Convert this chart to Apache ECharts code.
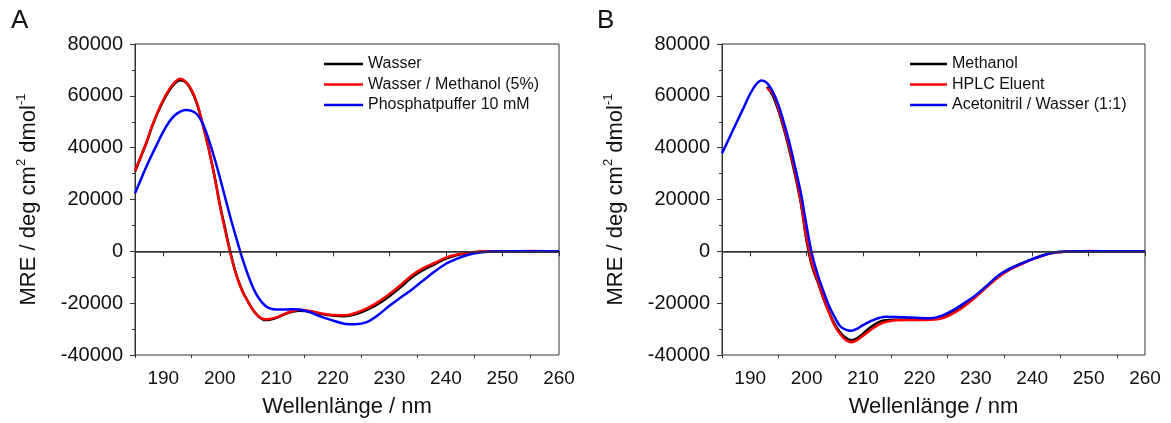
<!DOCTYPE html>
<html>
<head>
<meta charset="utf-8">
<script src="https://cdn.jsdelivr.net/npm/echarts@6/dist/echarts.min.js"></script>
<style>
  html, body { margin: 0; padding: 0; background: #fff; }
  #chart { width: 1171px; height: 423px; }
</style>
</head>
<body>
<div id="chart"></div>
<script>
// Wellenlänge (nm), gemeinsames Raster fuer beide Panels
const wavelengths = [185, 186, 187, 188, 189, 190, 191, 192, 193, 194,
  195, 196, 197, 198, 199, 200, 201, 202, 203, 204,
  205, 206, 207, 208, 209, 210, 211, 212, 213, 214,
  216, 218, 220, 222, 224, 226, 228, 230, 232, 234,
  236, 238, 240, 242, 244, 246, 248, 250, 255, 260]

// Panel A
const wasser = [30800, 36200, 41700, 48000, 53400, 58000, 61800, 64700, 66000, 65200,
  62000, 56600, 48800, 40000, 29800, 18300, 8300, -1500, -9500, -15300,
  -19400, -23000, -25400, -26500, -26300, -25700, -24700, -23800, -23200, -22900,
  -23200, -24200, -24800, -25000, -24300, -22600, -20300, -17300, -13800, -10000,
  -7200, -5000, -2800, -1400, -600, -200, 0, 0, 0, 0]
const wasserMethanol = [31000, 36500, 42000, 48300, 53800, 58500, 62300, 65200, 66600, 65400,
  62300, 57000, 48900, 39900, 29500, 17800, 7500, -2000, -9800, -15500,
  -19500, -23000, -25300, -26200, -26000, -25500, -24600, -23700, -23000, -22500,
  -23000, -24000, -24600, -24700, -23800, -22000, -19600, -16500, -13000, -9200,
  -6500, -4500, -2400, -1200, -500, -100, 0, 0, 100, 0]
const phosphat = [22400, 27500, 32600, 37300, 41800, 46200, 49800, 52400, 53900, 54500,
  54200, 52800, 49200, 43400, 36400, 28600, 20300, 12100, 4500, -2800,
  -9200, -14600, -18400, -20900, -22100, -22400, -22400, -22400, -22300, -22400,
  -23500, -25300, -26700, -27900, -28100, -27300, -24600, -21000, -17800, -14700,
  -11200, -7800, -4800, -2800, -1300, -500, -100, 0, 0, 0]

// Panel B
const methanol = [null, null, null, null, null, null, null, null, 63500, 60000,
  54300, 47000, 38500, 29000, 18300, 4000, -6000, -12000, -18300, -23600,
  -28200, -31400, -33500, -34300, -33500, -31800, -29900, -28300, -27100, -26600,
  -26400, -26300, -26200, -26200, -25200, -23200, -20500, -17200, -13400, -9500,
  -6700, -4800, -3000, -1500, -400, -100, 0, 0, 0, 0]
const hplcEluent = [null, null, null, null, null, null, null, null, 63000, 60800,
  55200, 48000, 39500, 30000, 18800, 5000, -5200, -11400, -18000, -23800,
  -28800, -32100, -34300, -35100, -34200, -32600, -30900, -29400, -28100, -27300,
  -26600, -26500, -26500, -26400, -25800, -23900, -21200, -17600, -13700, -10000,
  -7100, -5000, -3100, -1600, -500, -100, 0, 100, 0, 0]
const acetonitril = [37800, 42400, 47000, 51600, 56200, 60800, 64300, 65900, 64900, 61600,
  56500, 49500, 41500, 32100, 22300, 9800, -1500, -9200, -15500, -21200,
  -25500, -29000, -30300, -30600, -29800, -28500, -27300, -26400, -25600, -25200,
  -25300, -25500, -25700, -25800, -24800, -22700, -19900, -16900, -13200, -9300,
  -6800, -4800, -3000, -1500, -400, -100, 0, 0, 0, 0]

const xMajor = [190, 200, 210, 220, 230, 240, 250, 260]
const xMinor = [185, 195, 205, 215, 225, 235, 245, 255]

const FONT = 'Liberation Sans, Arial, sans-serif'
const AXIS_COLOR = '#333'
const TEXT_COLOR = '#111'

const myChart = echarts.init(document.getElementById('chart'))

function pairs(values) {
  return wavelengths.map((w, i) => [w, values[i]])
}

function mainXAxis(gridIndex) {
  return {
    type: 'value',
    gridIndex: gridIndex,
    position: 'bottom',
    min: 185,
    max: 260,
    name: 'Wellenlänge / nm',
    nameLocation: 'middle',
    nameGap: 41,
    nameTextStyle: { fontSize: 22, color: TEXT_COLOR, fontFamily: FONT },
    axisLine: { show: true, lineStyle: { color: AXIS_COLOR, width: 1 } },
    axisTick: { show: true, customValues: xMajor, length: 5, lineStyle: { color: AXIS_COLOR } },
    axisLabel: { customValues: xMajor, fontSize: 19, color: TEXT_COLOR, fontFamily: FONT, margin: 14 },
    splitLine: { show: false }
  }
}

function minorXAxis(gridIndex) {
  return {
    type: 'value',
    gridIndex: gridIndex,
    position: 'bottom',
    min: 185,
    max: 260,
    axisLine: { show: false },
    axisTick: { show: true, customValues: xMinor, length: 3, lineStyle: { color: AXIS_COLOR } },
    axisLabel: { show: false },
    splitLine: { show: false }
  }
}

function yAxis(gridIndex) {
  return {
    type: 'value',
    gridIndex: gridIndex,
    min: -40000,
    max: 80000,
    interval: 20000,
    name: 'MRE / deg cm{sup|2} dmol{sup|-1}',
    nameLocation: 'middle',
    nameGap: 93,
    nameTextStyle: {
      fontSize: 22,
      color: TEXT_COLOR,
      fontFamily: FONT,
      rich: {
        sup: { fontSize: 13, color: TEXT_COLOR, fontFamily: FONT, padding: [0, 0, 14, 0] }
      }
    },
    axisLine: { show: true, lineStyle: { color: AXIS_COLOR, width: 1 } },
    axisTick: { show: true, length: 5, lineStyle: { color: AXIS_COLOR } },
    minorTick: { show: true, splitNumber: 2, length: 3, lineStyle: { color: AXIS_COLOR } },
    axisLabel: {
      fontSize: 20, color: TEXT_COLOR, fontFamily: FONT, margin: 12,
      formatter: function (v) { return String(v) }
    },
    splitLine: { show: false }
  }
}

function lineSeries(name, values, color, xIdx, yIdx, zeroLine) {
  const s = {
    name: name,
    type: 'line',
    xAxisIndex: xIdx,
    yAxisIndex: yIdx,
    smooth: 0.35,
    symbol: 'none',
    showSymbol: false,
    lineStyle: { color: color, width: 2.5 },
    itemStyle: { color: color },
    data: pairs(values)
  }
  if (zeroLine) {
    s.markLine = {
      silent: true,
      symbol: ['none', 'none'],
      label: { show: false },
      lineStyle: { color: AXIS_COLOR, width: 1.5, type: 'solid' },
      data: [{ yAxis: 0 }]
    }
  }
  return s
}

function legend(names, left, width) {
  return {
    data: names,
    orient: 'vertical',
    left: left,
    top: 56,
    padding: 0,
    icon: 'rect',
    itemWidth: width,
    itemHeight: 2.5,
    itemGap: 4.5,
    textStyle: { fontSize: 16, lineHeight: 16, color: TEXT_COLOR, fontFamily: FONT }
  }
}

var option = {
  backgroundColor: '#fff',
  animation: false,
  title: [
    { text: 'A', left: 11, top: 8, padding: 0, textStyle: { fontSize: 26, fontWeight: 'normal', color: TEXT_COLOR, fontFamily: FONT } },
    { text: 'B', left: 597, top: 8, padding: 0, textStyle: { fontSize: 26, fontWeight: 'normal', color: TEXT_COLOR, fontFamily: FONT } }
  ],
  grid: [
    { left: 135, top: 44, width: 424, height: 312, show: true, borderColor: AXIS_COLOR, borderWidth: 1, backgroundColor: 'transparent' },
    { left: 722, top: 44, width: 423, height: 312, show: true, borderColor: AXIS_COLOR, borderWidth: 1, backgroundColor: 'transparent' }
  ],
  legend: [
    legend(['Wasser', 'Wasser / Methanol (5%)', 'Phosphatpuffer 10 mM'], 324, 39),
    legend(['Methanol', 'HPLC Eluent', 'Acetonitril / Wasser (1:1)'], 910, 37)
  ],
  xAxis: [mainXAxis(0), minorXAxis(0), mainXAxis(1), minorXAxis(1)],
  yAxis: [yAxis(0), yAxis(1)],
  series: [
    lineSeries('Wasser', wasser, '#000000', 0, 0, true),
    lineSeries('Wasser / Methanol (5%)', wasserMethanol, '#ff0000', 0, 0, false),
    lineSeries('Phosphatpuffer 10 mM', phosphat, '#0000ff', 0, 0, false),
    lineSeries('Methanol', methanol, '#000000', 2, 1, true),
    lineSeries('HPLC Eluent', hplcEluent, '#ff0000', 2, 1, false),
    lineSeries('Acetonitril / Wasser (1:1)', acetonitril, '#0000ff', 2, 1, false)
  ]
}

myChart.setOption(option)
</script>
</body>
</html>
